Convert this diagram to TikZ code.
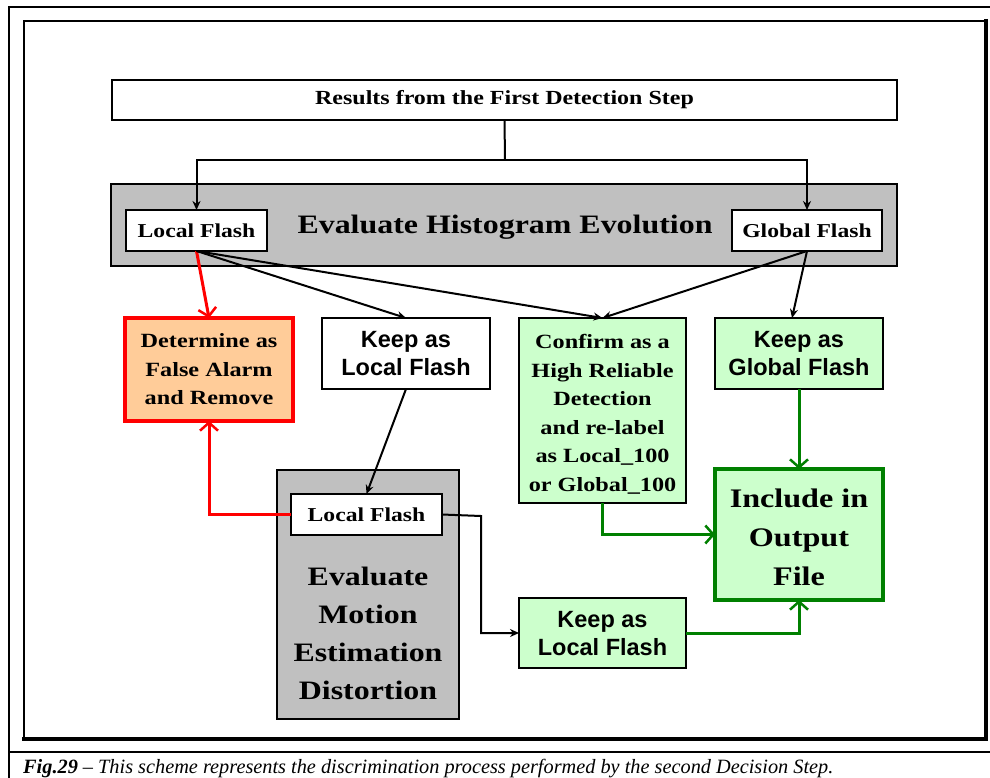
\documentclass[tikz,border=0pt]{standalone}
\usepackage{fontspec}
\setmainfont[FakeStretch=1.2]{Liberation Serif}
\newfontfamily\capfont[Ligatures=TeX]{Liberation Serif}
\setsansfont{Liberation Sans}
\usetikzlibrary{arrows.meta}
\definecolor{boxgray}{HTML}{C0C0C0}
\definecolor{peach}{HTML}{FFCC99}
\definecolor{palegreen}{HTML}{CCFFCC}
\definecolor{darkgreen}{HTML}{008000}
\newcommand{\fs}[1]{\fontsize{#1}{#1}\selectfont}
\tikzset{
  panel/.style={draw=black, line width=2.2pt, inner sep=0pt, outer sep=0pt},
  graypanel/.style={panel, fill=boxgray},
  whitebox/.style={panel, fill=white, align=center, font=\bfseries\fs{19.7}},
  sansbox/.style={panel, align=center, font=\sffamily\bfseries\fs{23.5}, text depth=0pt},
  serifbox/.style={panel, align=center, font=\bfseries\fs{20.2}},
  blackarrow/.style={line width=2pt, -{Stealth[length=9pt,width=8pt]}},
  redarrow/.style={red, line width=3pt, -{Straight Barb[length=8pt,width=18pt,line width=2.5pt]}},
  greenarrow/.style={darkgreen, line width=3pt, -{Straight Barb[length=8pt,width=18pt,line width=2.5pt]}},
}
\begin{document}
\begin{tikzpicture}[x=1pt, y=-1pt]
  \useasboundingbox (0,0) rectangle (990,778);
  \fill[white] (0,0) rectangle (990,778);

  % page frame, divider and drop-shadowed inner frame
  \draw[line width=2.5pt] (990,7) -- (9,7) -- (9,778);
  \draw[line width=2.5pt] (9,752) -- (990,752);
  \draw[line width=2.5pt] (24,739) -- (24,21) -- (986,21);
  \draw[line width=4pt] (986,19) -- (986,739) -- (22,739);

  % top input
  \node[panel, fill=white, minimum width=785, minimum height=40, font=\bfseries\fs{20}]
    (results) at (504.5,100) {Results from the First Detection Step};

  % histogram evolution stage
  \node[graypanel, minimum width=786, minimum height=82] (hist) at (504,225) {};
  \node[font=\bfseries\fs{26.6}] (histlabel) at (505,227) {Evaluate Histogram Evolution};
  \node[whitebox, minimum width=141, minimum height=41] (lf1) at (196.5,230.5) {Local Flash};
  \node[whitebox, minimum width=150, minimum height=41] (gf1) at (807,230.5) {Global Flash};

  % decisions
  \node[panel, draw=red, line width=4.5pt, fill=peach, minimum width=168, minimum height=103,
        align=center, font=\bfseries\fs{20.2}] (falsealarm) at (209,369.5)
        {Determine as\\[8.3pt]False Alarm\\[8.3pt]and Remove};
  \node[sansbox, fill=white, minimum width=168, minimum height=71] (keeplocal1) at (406,353.5)
        {Keep as\\[4.5pt]Local Flash};
  \node[serifbox, fill=palegreen, minimum width=167, minimum height=185] (confirm) at (602.5,410.5)
        {\rule{0pt}{22pt}Confirm as a\\[8.4pt]High Reliable\\[8.4pt]Detection\\[8.4pt]and re-label\\[8.4pt]as Local\_100\\[8.4pt]or Global\_100};
  \node[sansbox, fill=palegreen, minimum width=168, minimum height=71] (keepglobal) at (799,353.5)
        {Keep as\\[4.5pt]Global Flash};
  \node[panel, draw=darkgreen, line width=4.5pt, fill=palegreen, minimum width=168, minimum height=131,
        align=center, font=\bfseries\fs{26.8}] (include) at (799,534.5)
        {\rule{0pt}{25pt}Include in\\[12.2pt]Output\\[12.2pt]File};

  % motion estimation stage
  \node[graypanel, minimum width=182, minimum height=249] (motion) at (368,594.5) {};
  \node[whitebox, minimum width=151, minimum height=41] (lf2) at (366.5,514.5) {Local Flash};
  \node[align=center, font=\bfseries\fs{26.6}] (motionlabel) at (368,633)
        {Evaluate\\[11.4pt]Motion\\[11.4pt]Estimation\\[11.4pt]Distortion};
  \node[sansbox, fill=palegreen, minimum width=167, minimum height=70] (keeplocal2) at (602.5,633)
        {Keep as\\[4.5pt]Local Flash};

  % routing points
  \coordinate (split) at (505,160);
  \coordinate (bend) at (481,516);

  % connectors
  \draw[line width=2pt] (results.south) -- (split);
  \draw[blackarrow] (split) -| (lf1.north);
  \draw[blackarrow] (split) -| (gf1.north);
  \draw[redarrow] (lf1.south) -- (falsealarm.north);
  \draw[blackarrow] (lf1.south) -- (keeplocal1.north);
  \draw[blackarrow] (lf1.south) -- (confirm.north);
  \draw[blackarrow] (gf1.south) -- (confirm.north);
  \draw[blackarrow] (gf1.south) -- ([xshift=-7pt]keepglobal.north);
  \draw[blackarrow] (keeplocal1.south) -- (lf2.north);
  \draw[redarrow] (lf2.west) -| (falsealarm.south);
  \draw[blackarrow] (lf2.east) -- (bend) |- (keeplocal2.west);
  \draw[greenarrow] (confirm.south) |- (include.west);
  \draw[greenarrow] (keepglobal.south) -- (include.north);
  \draw[greenarrow] (keeplocal2.east) -| (include.south);

  % caption
  \node[anchor=base west, font=\capfont\itshape\fs{20.3}, inner sep=0pt] (caption) at (23,773)
        {\textbf{Fig.29} – This scheme represents the discrimination process performed by the second Decision Step.};
\end{tikzpicture}
\end{document}
